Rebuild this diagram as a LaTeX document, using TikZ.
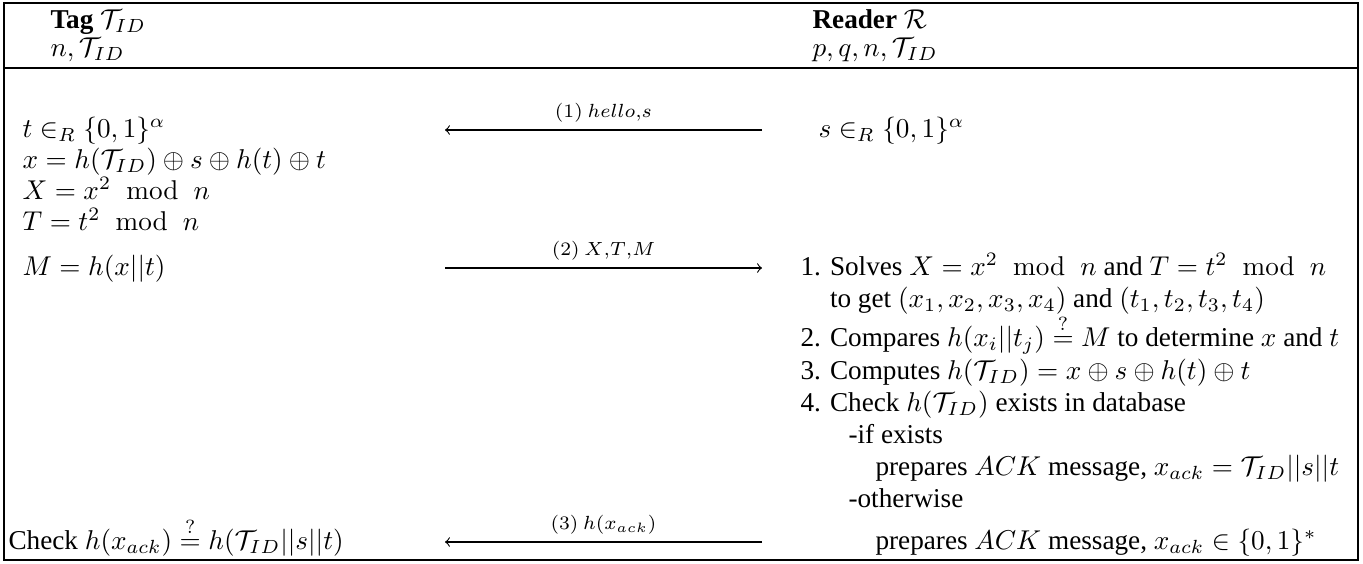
\documentclass[tikz,border=0pt]{standalone}
\usepackage{amsmath}
\usepackage[no-math]{fontspec}
\setmainfont{Liberation Serif}
\newcommand{\TID}{\mathcal{T}_{ID}}
\newcommand{\md}{\mkern10mu\mathrm{mod}\mkern10mu}

\begin{document}
\begin{tikzpicture}[x=0.3676pt,y=-0.3676pt]
	\tikzstyle{txt}=[anchor=base west,inner sep=0pt,font=\fontsize{10}{12}\selectfont]
	\tikzstyle{lbl}=[above,inner sep=2.5pt,font=\scriptsize]
	\useasboundingbox (0,0) rectangle (1363,563);
	\draw[line width=0.5pt] (4,3) rectangle (1358,560);
	\draw[line width=0.5pt] (4,68) -- (1358,68);

	% header
	\node[txt] (tag) at (50,28) {\textbf{Tag} $\TID$};
	\node[txt] (tagkeys) at (50,56) {$n, \TID$};
	\node[txt] (reader) at (812,28) {\textbf{Reader} $\mathcal{R}$};
	\node[txt] (readerkeys) at (812,56) {$p, q, n, \TID$};

	% tag side
	\node[txt] (t-1) at (22,137) {$t \in_R \{0,1\}^\alpha$};
	\node[txt] (t-2) at (22,168) {$x = h(\TID) \oplus s \oplus h(t) \oplus t$};
	\node[txt] (t-3) at (22,199) {$X = x^2 \md n$};
	\node[txt] (t-4) at (22,230) {$T = t^2 \md n$};
	\node[txt] (t-5) at (22,275) {$M = h(x||t)$};
	\node[txt] (t-6) at (8,549) {Check $h(x_{ack}) \stackrel{?}{=} h(\TID||s||t)$};

	% reader side
	\node[txt] (r-1) at (818,137) {$s \in_R \{0,1\}^\alpha$};
	\node[txt] (r-2) at (800,275) {1. Solves $X = x^2 \md n$ and $T = t^2 \md n$};
	\node[txt] (r-3) at (800,307) {\hphantom{1. }to get $(x_1,x_2,x_3,x_4)$ and $(t_1,t_2,t_3,t_4)$};
	\node[txt] (r-4) at (800,346) {2. Compares $h(x_i||t_j) \stackrel{?}{=} M$ to determine $x$ and $t$};
	\node[txt] (r-5) at (800,379) {3. Computes $h(\TID) = x \oplus s \oplus h(t) \oplus t$};
	\node[txt] (r-6) at (800,411) {4. Check $h(\TID)$ exists in database};
	\node[txt] (r-7) at (848,443) {-if exists};
	\node[txt] (r-8) at (875,475) {prepares $ACK$ message, $x_{ack} = \TID||s||t$};
	\node[txt] (r-9) at (848,507) {-otherwise};
	\node[txt] (r-10) at (875,549) {prepares $ACK$ message, $x_{ack} \in \{0,1\}^*$};

	% messages
	\coordinate (m1-r) at (762,130);
	\coordinate (m1-l) at (445,130);
	\coordinate (m2-l) at (445,268);
	\coordinate (m2-r) at (762,268);
	\coordinate (m3-r) at (762,542);
	\coordinate (m3-l) at (445,542);

	\path[->]
	(m1-r) edge node[lbl] {$(1)\ hello{,}s$} (m1-l)
	(m2-l) edge node[lbl] {$(2)\ X{,}T{,}M$} (m2-r)
	(m3-r) edge node[lbl] {$(3)\ h(x_{ack})$} (m3-l)
	;
\end{tikzpicture}
\end{document}
